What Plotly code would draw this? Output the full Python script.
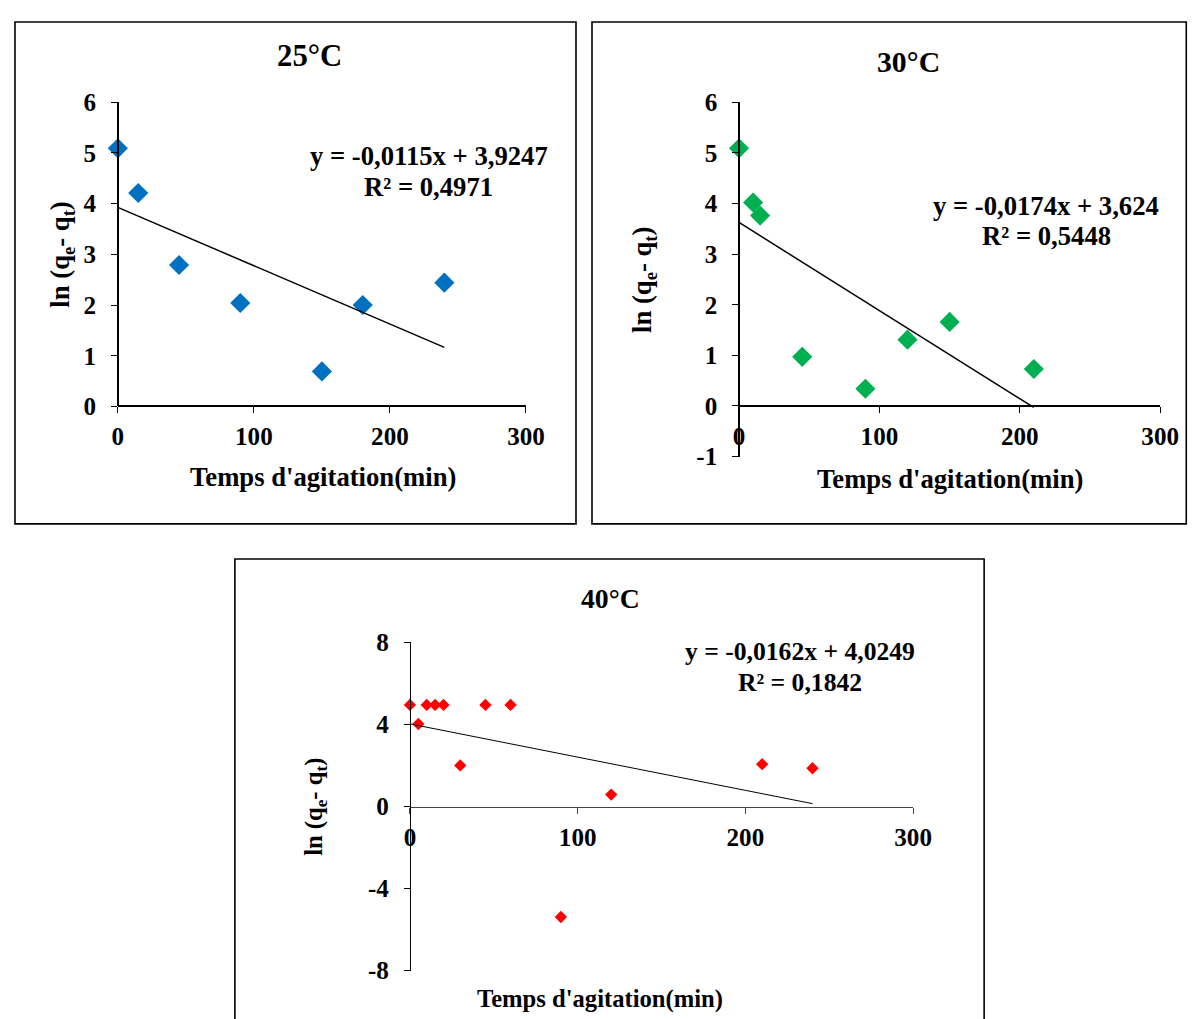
import plotly.graph_objects as go

# figure size and measured page->picture transform compensation
FW, FH = 1210, 1030
SX, BX = 0.979, 14.2
SY, BY = 0.970, 22.1
K = 1 / 0.975  # font scale compensation

# ---- data ----
t25 = [0, 15, 45, 90, 150, 180, 240]
y25 = [5.09, 4.21, 2.79, 2.04, 0.69, 2.0, 2.44]
fit25 = (-0.0115, 3.9247)
eq25 = ["y = -0,0115x + 3,9247", "R² = 0,4971"]

t30 = [0, 10, 15, 45, 90, 120, 150, 210]
y30 = [5.09, 4.02, 3.76, 0.97, 0.34, 1.31, 1.66, 0.73]
fit30 = (-0.0174, 3.624)
eq30 = ["y = -0,0174x + 3,624", "R² = 0,5448"]

t40 = [0, 5, 10, 15, 20, 30, 45, 60, 90, 120, 210, 240]
y40 = [4.95, 4.02, 4.95, 4.95, 4.95, 2.0, 4.95, 4.95, -5.39, 0.58, 2.06, 1.86]
fit40 = (-0.0162, 4.0249)
eq40 = ["y = -0,0162x + 4,0249", "R² = 0,1842"]

xticks = [0, 100, 200, 300]
yticks25 = [0, 1, 2, 3, 4, 5, 6]
yticks30 = [-1, 0, 1, 2, 3, 4, 5, 6]
yticks40 = [-8, -4, 0, 4, 8]
xtitle = "Temps d'agitation(min)"
ytitle = "ln (q<sub>e</sub>- q<sub>t</sub>)"

FONT = "Liberation Serif"


def fxp(x):
    return (x - BX) / SX


def fyp(y):
    return (y - BY) / SY


def px(x):
    return fxp(x) / FW


def py(y):
    return 1 - fyp(y) / FH


def cx(x):
    return min(max(fxp(x), 1), 1197) / FW


def cy(y):
    return 1 - min(max(fyp(y), 1), FH - 1) / FH


fig = go.Figure()

panels = [
    dict(t=t25, y=y25, fit=fit25, color="#0070C0", msize=15.5, xa="x", ya="y",
         xdom=(118, 526), ydom=(406, 103), yr=[0, 6], yt=yticks25, x0line=406,
         lw=1.5, xlc="black", tlw=1.5),
    dict(t=t30, y=y30, fit=fit30, color="#00B050", msize=15.5, xa="x2", ya="y2",
         xdom=(739, 1160), ydom=(456, 103), yr=[-1, 6], yt=yticks30, x0line=406,
         lw=1.5, xlc="black", tlw=1.5),
    dict(t=t40, y=y40, fit=fit40, color="#FF0000", msize=9.5, xa="x3", ya="y3",
         xdom=(410, 913), ydom=(968, 641), yr=[-8, 8], yt=yticks40, x0line=805,
         lw=1.2, xlc="#444444", tlw=1.0),
]

for i, p in enumerate(panels):
    fig.add_trace(go.Scatter(
        x=p["t"], y=p["y"], mode="markers", xaxis=p["xa"], yaxis=p["ya"],
        marker=dict(symbol="diamond", size=p["msize"], color=p["color"],
                    line=dict(width=0)),
        cliponaxis=False, showlegend=False))
    a, b = p["fit"]
    xs = [min(p["t"]), max(p["t"])]
    fig.add_trace(go.Scatter(
        x=xs, y=[a * v + b for v in xs], mode="lines", xaxis=p["xa"], yaxis=p["ya"],
        line=dict(color="black", width=p["tlw"]), cliponaxis=False, showlegend=False))

    sfx = "" if i == 0 else str(i + 1)
    tf = dict(family=FONT, size=24.5 * K, color="black", weight="bold")
    fig.update_layout(**{
        "xaxis" + sfx: dict(
            domain=[px(p["xdom"][0]), px(p["xdom"][1])], range=[0, 300],
            tickvals=xticks, ticks="outside", ticklen=6, tickwidth=1.2,
            tickcolor=p["xlc"], showline=True, linecolor=p["xlc"], linewidth=p["lw"],
            showgrid=False, zeroline=False, anchor="free", position=py(p["x0line"]),
            tickfont=tf, ticklabelstandoff=2, fixedrange=True),
        "yaxis" + sfx: dict(
            domain=[py(p["ydom"][0]), py(p["ydom"][1])], range=p["yr"],
            tickvals=p["yt"], ticktext=[str(v) for v in p["yt"]],
            ticks="outside", ticklen=6, tickwidth=1.2, tickcolor="black",
            showline=True, linecolor="black", linewidth=p["lw"], showgrid=False,
            zeroline=False, anchor="free", position=px(p["xdom"][0]),
            tickfont=tf, ticklabelstandoff=10, fixedrange=True),
    })

# borders
for (x0, y0, x1, y1) in [(10, 13, 576, 523), (592, 15, 1197, 523), (235, 558, 984, 1040)]:
    fig.add_shape(type="rect", xref="paper", yref="paper",
                  x0=cx(x0), x1=cx(x1), y0=cy(y1), y1=cy(y0),
                  line=dict(color="black", width=1.6))


def ann(text, x, y, size, angle=0):
    fig.add_annotation(text=text, x=px(x), y=py(y), xref="paper", yref="paper",
                       showarrow=False, xanchor="center", yanchor="middle",
                       textangle=angle,
                       font=dict(family=FONT, size=size * K, color="black", weight="bold"))


ann("25°C", 310, 57, 30)
ann("30°C", 908, 62, 29)
ann("40°C", 610, 597, 27)

ann(eq25[0], 429, 157, 26)
ann(eq25[1], 429, 187, 26)
ann(eq30[0], 1046, 206, 26)
ann(eq30[1], 1046, 236, 26)
ann(eq40[0], 800, 650, 25)
ann(eq40[1], 800, 681, 25)

ann(xtitle, 323, 476, 26)
ann(xtitle, 950, 478, 26)
ann(xtitle, 600, 996, 24)

ann(ytitle, 62, 255, 26, -90)
ann(ytitle, 644, 280, 26, -90)
ann(ytitle, 316, 805, 24, -90)

fig.update_layout(width=FW, height=FH, margin=dict(l=0, r=0, t=0, b=0),
                  paper_bgcolor="white", plot_bgcolor="white",
                  font=dict(family=FONT, color="black"))

fig.write_html("out.html")
